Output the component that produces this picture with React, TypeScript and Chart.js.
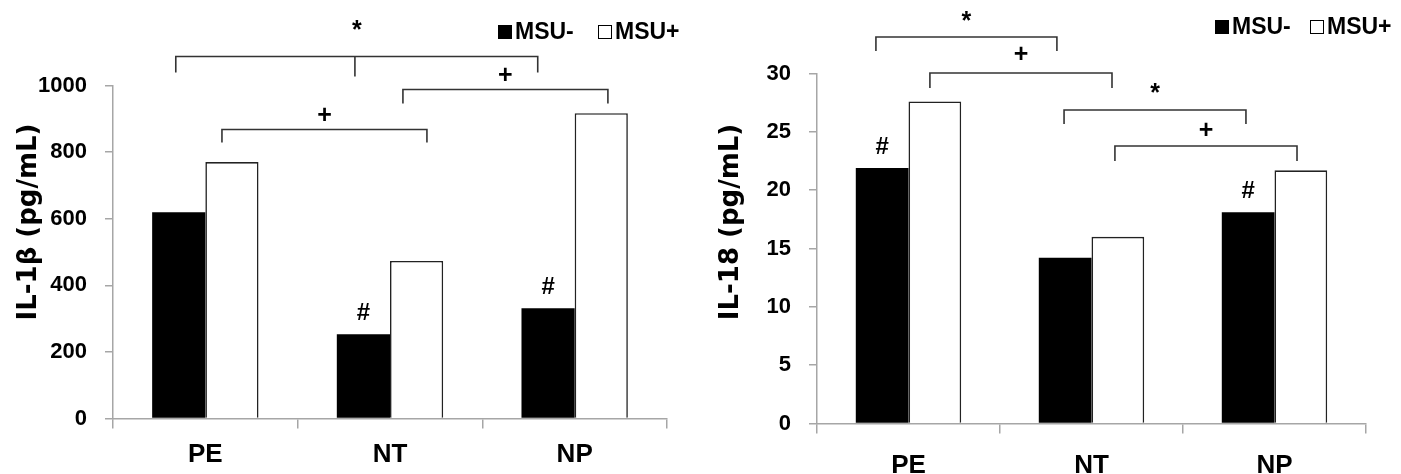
import React, { useEffect, useRef } from "react";
import { Chart, registerables } from "chart.js";

Chart.register(...registerables);

// ---------- data ----------
const categories = ["PE", "NT", "NP"];
const seriesNames = ["MSU-", "MSU+"];

const il1bMinus = [619, 253, 331];
const il1bPlus = [770, 473, 917];
const il1bHash = [false, true, true]; // "#" above MSU- bar

const il18Minus = [21.9, 14.2, 18.1];
const il18Plus = [27.6, 16.0, 21.7];
const il18Hash = [true, false, true];

const il1bTitle = "IL-1β (pg/mL)";
const il18Title = "IL-18 (pg/mL)";

// significance brackets (category index units, value units)
const il1bBrackets = [
  { from: -0.16, to: 1.8, mid: 0.81, level: 1087, drop: 1039, midDrop: 1027, mark: "*", markAt: 1162 },
  { from: 1.07, to: 2.18, mid: null, level: 988, drop: 946, midDrop: 0, mark: "+", markAt: 1027 },
  { from: 0.09, to: 1.2, mid: null, level: 868, drop: 829, midDrop: 0, mark: "+", markAt: 907 },
];
const il18Brackets = [
  { from: -0.178, to: 0.811, mid: null, level: 33.13, drop: 31.93, midDrop: 0, mark: "*", markAt: 34.4 },
  { from: 0.117, to: 1.112, mid: null, level: 30.04, drop: 28.76, midDrop: 0, mark: "+", markAt: 31.59 },
  { from: 0.85, to: 1.844, mid: null, level: 26.87, drop: 25.67, midDrop: 0, mark: "*", markAt: 28.2 },
  { from: 1.128, to: 2.123, mid: null, level: 23.79, drop: 22.5, midDrop: 0, mark: "+", markAt: 25.07 },
];

const SANS = "'Liberation Sans', Arial, sans-serif";
const WIDE = "'DejaVu Sans', 'Liberation Sans', sans-serif";
const AXIS_GRAY = "#a6a6a6";

type Panel = {
  minus: number[];
  plus: number[];
  hash: boolean[];
  brackets: typeof il1bBrackets;
  title: string;
  max: number;
  step: number;
  width: number;
  axisLeft: number;
  axisBottom: number;
  padTop: number;
  padRight: number;
  xPad: number;
  legendX: number;
  legendY: number;
  legendGap: number;
  titleX: number;
  titleY: number;
};

function catPx(scale: any, f: number) {
  const a = scale.getPixelForValue(0);
  const b = scale.getPixelForValue(1);
  return a + (b - a) * f;
}

function makeConfig(p: Panel): any {
  const overlay = {
    id: "overlay",
    afterDraw(chart: any) {
      const ctx = chart.ctx;
      const xs = chart.scales.x;
      const ys = chart.scales.y;
      ctx.save();
      // brackets
      ctx.strokeStyle = "#333";
      ctx.lineWidth = 1.6;
      ctx.fillStyle = "#000";
      ctx.textAlign = "center";
      ctx.textBaseline = "middle";
      for (const b of p.brackets) {
        const x1 = catPx(xs, b.from);
        const x2 = catPx(xs, b.to);
        const yl = ys.getPixelForValue(b.level);
        const yd = ys.getPixelForValue(b.drop);
        ctx.beginPath();
        ctx.moveTo(x1, yd);
        ctx.lineTo(x1, yl);
        ctx.lineTo(x2, yl);
        ctx.lineTo(x2, yd);
        if (b.mid !== null) {
          const xm = catPx(xs, b.mid);
          ctx.moveTo(xm, yl);
          ctx.lineTo(xm, ys.getPixelForValue(b.midDrop));
        }
        ctx.stroke();
        ctx.font = "bold 25px " + SANS;
        ctx.fillText(b.mark, (x1 + x2) / 2, ys.getPixelForValue(b.markAt));
      }
      // # marks above MSU- bars
      const meta = chart.getDatasetMeta(0);
      ctx.font = "bold 24px " + SANS;
      p.hash.forEach((h, i) => {
        if (!h) return;
        const el = meta.data[i];
        ctx.fillText("#", el.x, el.y - 21);
      });
      // legend
      const sq = 14;
      let lx = p.legendX;
      ctx.font = "bold 23px " + SANS;
      ctx.textAlign = "left";
      chart.data.datasets.forEach((ds: any) => {
        ctx.fillStyle = ds.backgroundColor;
        ctx.fillRect(lx, p.legendY - sq / 2, sq, sq);
        ctx.strokeStyle = "#000";
        ctx.lineWidth = 1;
        ctx.strokeRect(lx + 0.5, p.legendY - sq / 2 + 0.5, sq - 1, sq - 1);
        ctx.fillStyle = "#000";
        ctx.fillText(ds.label, lx + sq + 3, p.legendY + 1);
        lx += p.legendGap;
      });
      // y-axis title
      ctx.translate(p.titleX, p.titleY);
      ctx.rotate(-Math.PI / 2);
      ctx.font = "bold 26px " + WIDE;
      ctx.textAlign = "center";
      ctx.textBaseline = "alphabetic";
      ctx.fillText(p.title, 0, 0);
      ctx.restore();
    },
  };

  return {
    type: "bar",
    data: {
      labels: categories,
      datasets: [
        {
          label: seriesNames[0],
          data: p.minus,
          backgroundColor: "#000000",
          borderWidth: 0,
          categoryPercentage: 0.576,
          barPercentage: 1,
        },
        {
          label: seriesNames[1],
          data: p.plus,
          backgroundColor: "#ffffff",
          borderColor: "#222",
          borderWidth: 1.6,
          categoryPercentage: 0.576,
          barPercentage: 1,
        },
      ],
    },
    options: {
      responsive: false,
      animation: false,
      layout: { padding: { top: p.padTop, right: p.padRight, left: 0, bottom: 0 } },
      plugins: { legend: { display: false }, tooltip: { enabled: false } },
      scales: {
        x: {
          afterFit: (s: any) => {
            s.height = 474 - p.axisBottom;
          },
          grid: {
            display: true,
            drawOnChartArea: false,
            drawTicks: true,
            tickLength: 10,
            color: AXIS_GRAY,
            lineWidth: 1.5,
            offset: true,
          },
          border: { display: true, color: AXIS_GRAY, width: 1.5 },
          ticks: {
            color: "#000",
            padding: p.xPad,
            font: { family: SANS, size: 26, weight: "bold" },
          },
        },
        y: {
          min: 0,
          max: p.max,
          afterFit: (s: any) => {
            s.width = p.axisLeft;
          },
          grid: {
            display: true,
            drawOnChartArea: false,
            drawTicks: true,
            tickLength: 8,
            color: AXIS_GRAY,
            lineWidth: 1.5,
          },
          border: { display: true, color: AXIS_GRAY, width: 1.5 },
          ticks: {
            stepSize: p.step,
            color: "#000",
            padding: 18,
            callback: (v: any) => String(v),
            font: { family: SANS, size: 22, weight: "bold" },
          },
        },
      },
    },
    plugins: [overlay],
  };
}

const panels: Panel[] = [
  {
    minus: il1bMinus,
    plus: il1bPlus,
    hash: il1bHash,
    brackets: il1bBrackets,
    title: il1bTitle,
    max: 1000,
    step: 200,
    width: 700,
    axisLeft: 113,
    axisBottom: 418.5,
    padTop: 85.5,
    padRight: 33,
    xPad: 11,
    legendX: 498,
    legendY: 32,
    legendGap: 100,
    titleX: 36,
    titleY: 222,
  },
  {
    minus: il18Minus,
    plus: il18Plus,
    hash: il18Hash,
    brackets: il18Brackets,
    title: il18Title,
    max: 30,
    step: 5,
    width: 701,
    axisLeft: 117,
    axisBottom: 423.5,
    padTop: 73.5,
    padRight: 35,
    xPad: 17,
    legendX: 515,
    legendY: 27,
    legendGap: 95,
    titleX: 38,
    titleY: 222,
  },
];

function ChartPanel({ p, left }: { p: Panel; left: number }) {
  const ref = useRef<HTMLCanvasElement>(null);
  useEffect(() => {
    if (!ref.current) return;
    const chart = new Chart(ref.current, makeConfig(p));
    return () => chart.destroy();
  }, [p]);
  return (
    <canvas
      ref={ref}
      width={p.width}
      height={474}
      style={{ position: "absolute", left, top: 0, width: p.width, height: 474 }}
    />
  );
}

export default function App() {
  return (
    <div style={{ position: "fixed", left: 0, top: 0, width: 1401, height: 474, background: "#fff" }}>
      <ChartPanel p={panels[0]} left={0} />
      <ChartPanel p={panels[1]} left={700} />
    </div>
  );
}
